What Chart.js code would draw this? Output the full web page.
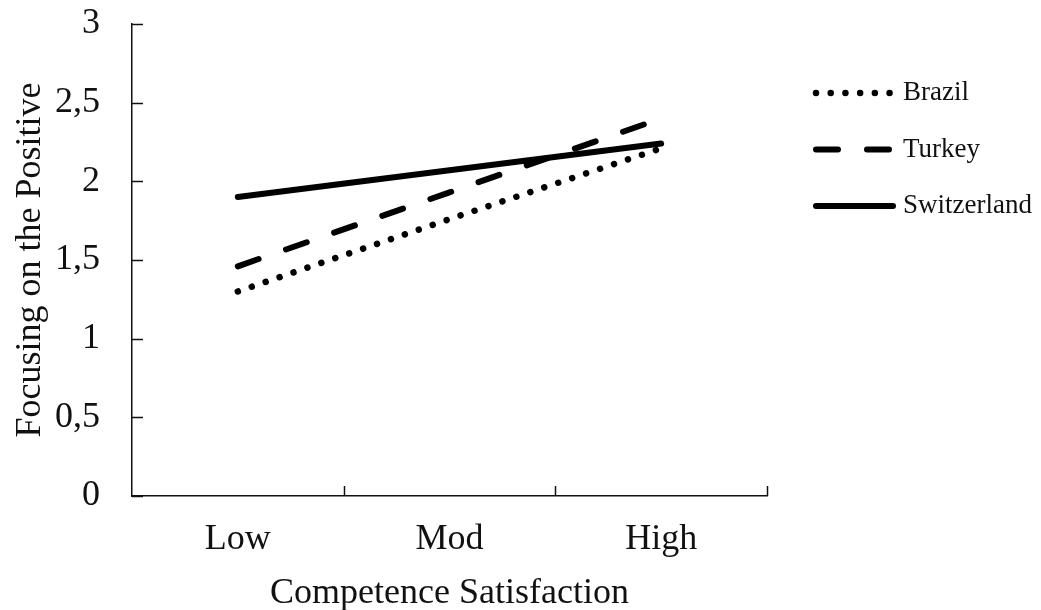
<!DOCTYPE html>
<html>
<head>
<meta charset="utf-8">
<script src="https://cdn.jsdelivr.net/npm/chart.js@4.4.1/dist/chart.umd.min.js"></script>
<style>
  html, body { margin: 0; padding: 0; background: #ffffff; }
  #wrap { width: 1041px; height: 610px; position: relative; }
</style>
</head>
<body>
<div id="wrap"><canvas id="chart" width="1041" height="610"></canvas></div>
<script>
// Levels of competence satisfaction and the predicted scores per country
const categories = ['Low', 'Mod', 'High'];
const brazil = [1.30, 1.76, 2.21];
const turkey = [1.46, 1.93, 2.40];
const switzerland = [1.90, 2.07, 2.24];
const yTickValues = [0, 0.5, 1, 1.5, 2, 2.5, 3];
const yTickLabels = ['0', '0,5', '1', '1,5', '2', '2,5', '3'];
const seriesNames = ['Brazil', 'Turkey', 'Switzerland'];

const serif = "'Liberation Serif', 'Times New Roman', serif";
const ink = '#111111';

// Tick marks drawn on the inner side of both axes
const innerTicks = {
  id: 'innerTicks',
  afterDraw(chart) {
    const { ctx, chartArea } = chart;
    const xs = chart.scales.x, ys = chart.scales.y;
    ctx.save();
    ctx.strokeStyle = ink;
    ctx.lineWidth = 1.5;
    ctx.beginPath();
    yTickValues.forEach(v => {
      const y = Math.round(ys.getPixelForValue(v)) + 0.5;
      ctx.moveTo(chartArea.left, y);
      ctx.lineTo(chartArea.left + 11, y);
    });
    const step = xs.getPixelForValue(1) - xs.getPixelForValue(0);
    for (let i = 1; i <= categories.length; i++) {
      const x = Math.round(xs.getPixelForValue(0) - step / 2 + i * step) + 0.5;
      ctx.moveTo(x, chartArea.bottom);
      ctx.lineTo(x, chartArea.bottom - 10);
    }
    ctx.stroke();
    ctx.restore();
  }
};

// Legend at the right, each sample drawn with its series' own stroke style
const sideLegend = {
  id: 'sideLegend',
  afterDraw(chart) {
    const { ctx, chartArea } = chart;
    const x0 = chartArea.right + 49, x1 = chartArea.right + 126;
    ctx.save();
    chart.data.datasets.forEach((ds, i) => {
      const y = chartArea.top + 69 + i * 56.5;
      ctx.beginPath();
      ctx.strokeStyle = ds.borderColor;
      ctx.lineWidth = ds.borderWidth;
      ctx.lineCap = ds.borderCapStyle || 'butt';
      ctx.setLineDash(ds.borderDash || []);
      ctx.moveTo(x0, y);
      ctx.lineTo(x1, y);
      ctx.stroke();
      ctx.setLineDash([]);
      ctx.fillStyle = ink;
      ctx.font = "27px " + serif;
      ctx.textAlign = 'left';
      ctx.textBaseline = 'middle';
      ctx.fillText(ds.label, chartArea.right + 136, y);
    });
    ctx.restore();
  }
};

new Chart(document.getElementById('chart'), {
  type: 'line',
  data: {
    labels: categories,
    datasets: [
      {
        label: seriesNames[0], data: brazil,
        borderColor: '#000', borderWidth: 6.5, borderCapStyle: 'round',
        borderDash: [0.01, 14.7], pointRadius: 0, tension: 0
      },
      {
        label: seriesNames[1], data: turkey,
        borderColor: '#000', borderWidth: 6, borderCapStyle: 'round',
        borderDash: [22, 29], pointRadius: 0, tension: 0
      },
      {
        label: seriesNames[2], data: switzerland,
        borderColor: '#000', borderWidth: 6, borderCapStyle: 'round',
        borderDash: [], pointRadius: 0, tension: 0
      }
    ]
  },
  options: {
    responsive: false,
    animation: false,
    devicePixelRatio: 1,
    layout: { padding: { left: 0, top: 24, right: 274, bottom: 0 } },
    plugins: {
      legend: { display: false },
      tooltip: { enabled: false }
    },
    scales: {
      x: {
        type: 'category',
        offset: true,
        grid: { display: true, drawOnChartArea: false, drawTicks: false, offset: true },
        border: { display: true, color: ink, width: 1.5 },
        ticks: { color: ink, font: { family: serif, size: 36 }, padding: 22, maxRotation: 0, autoSkip: false },
        title: {
          display: true, text: 'Competence Satisfaction', color: ink,
          font: { family: serif, size: 36 }, padding: { top: 0, bottom: -5 }
        },
        afterFit(scale) { scale.height = 114; scale.paddingLeft = 0; scale.paddingRight = 0; }
      },
      y: {
        min: 0, max: 3,
        grid: { display: true, drawOnChartArea: false, drawTicks: false },
        border: { display: true, color: ink, width: 1.5 },
        ticks: {
          stepSize: 0.5, color: ink, font: { family: serif, size: 36 }, padding: 32,
          callback(value) {
            const i = yTickValues.indexOf(value);
            return i >= 0 ? yTickLabels[i] : '';
          }
        },
        title: {
          display: true, text: 'Focusing on the Positive', color: ink,
          font: { family: serif, size: 36 }, padding: { top: 9, bottom: 0 }
        },
        afterFit(scale) { scale.width = 132; scale.paddingTop = 0; scale.paddingBottom = 0; }
      }
    }
  },
  plugins: [innerTicks, sideLegend]
});
</script>
</body>
</html>
